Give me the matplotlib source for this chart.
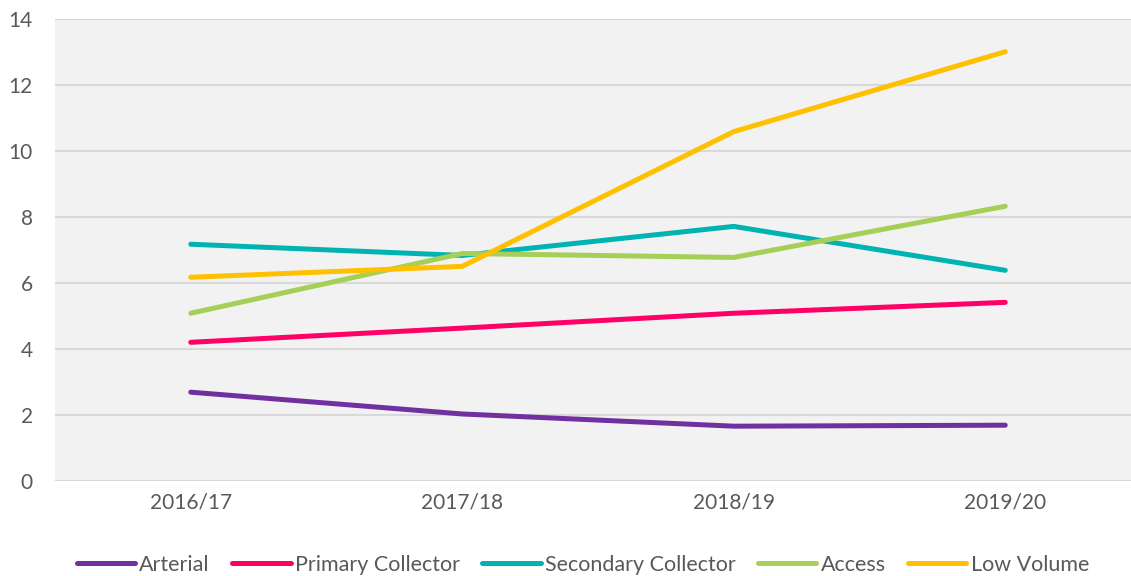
import matplotlib
matplotlib.use("Agg")
import matplotlib.pyplot as plt

years = ["2016/17", "2017/18", "2018/19", "2019/20"]
arterial = [2.69, 2.03, 1.66, 1.69]
primary = [4.20, 4.63, 5.08, 5.41]
secondary = [7.17, 6.83, 7.71, 6.38]
access = [5.08, 6.89, 6.77, 8.32]
low_volume = [6.17, 6.50, 10.58, 13.0]

series = [
    ("Arterial", arterial, "#7030A0"),
    ("Primary Collector", primary, "#FF0066"),
    ("Secondary Collector", secondary, "#00B3B3"),
    ("Access", access, "#A5CF57"),
    ("Low Volume", low_volume, "#FFC000"),
]

plt.rcParams["font.family"] = ["Lato", "DejaVu Sans"]

fig = plt.figure(figsize=(11.31, 5.76), dpi=100)
ax = fig.add_axes([55 / 1131, 1 - 481 / 576, 1086 / 1131, (481 - 18.7) / 576])
ax.set_facecolor("#F2F2F2")

x = range(len(years))
for name, vals, col in series:
    ax.plot(x, vals, color=col, lw=3.6, solid_capstyle="round",
            solid_joinstyle="round", label=name)

ax.set_xlim(-0.5, 3.5)
ax.set_ylim(0, 14)
ax.set_yticks(range(0, 15, 2))
ax.set_xticks(list(x))
ax.set_xticklabels(years)
ax.yaxis.grid(True, color="#D9D9D9", lw=1.5)
ax.set_axisbelow(True)
ax.tick_params(length=0, labelsize=15, colors="#595959", pad=8)
ax.tick_params(axis="y", pad=16)
for s in ax.spines.values():
    s.set_visible(False)

leg = fig.legend(loc="center", bbox_to_anchor=(583 / 1131, 1 - 565 / 576),
                 ncol=5, frameon=False, fontsize=15.5, handlelength=2.7,
                 handletextpad=0.2, columnspacing=1.05, labelcolor="#595959")
for h in leg.get_lines():
    h.set_linewidth(3.6)

fig.savefig("out.png", dpi=100)
